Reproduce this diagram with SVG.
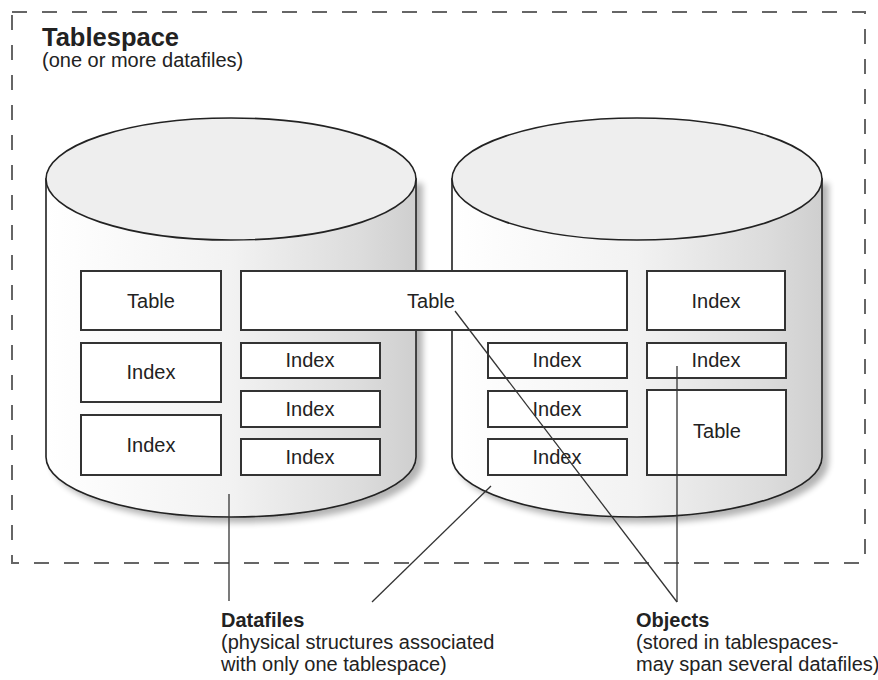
<svg xmlns="http://www.w3.org/2000/svg" width="878" height="680" viewBox="0 0 878 680">
<defs>
<linearGradient id="body" x1="0" y1="0" x2="1" y2="0">
<stop offset="0" stop-color="#ffffff"/>
<stop offset="0.5" stop-color="#f2f2f2"/>
<stop offset="0.85" stop-color="#dcdcdc"/>
<stop offset="1" stop-color="#cfcfcf"/>
</linearGradient>
<filter id="shadow" x="-10%" y="-10%" width="125%" height="125%">
<feGaussianBlur in="SourceAlpha" stdDeviation="3"/>
<feOffset dx="6" dy="5" result="b"/>
<feComponentTransfer><feFuncA type="linear" slope="0.3"/></feComponentTransfer>
<feMerge><feMergeNode/><feMergeNode in="SourceGraphic"/></feMerge>
</filter>
<style>
.frame{fill:none;stroke:#666;stroke-width:2;stroke-dasharray:15 15}
.body{fill:url(#body);stroke:#222;stroke-width:1.6}
.top{fill:#eeeeee;stroke:#222;stroke-width:1.6}
.box{fill:#fff;stroke:#333;stroke-width:2}
.lbl{font-family:"Liberation Sans",Arial,sans-serif;font-size:20px;fill:#222;text-anchor:middle}
.t{font-family:"Liberation Sans",Arial,sans-serif;font-size:20px;fill:#222}
.b{font-weight:bold}
.ln{stroke:#333;stroke-width:1.3;fill:none}
</style>
</defs>
<rect class="frame" x="12" y="12" width="853" height="551"/>
<g id="tablespace-label">
<text class="t b" x="42" y="46" style="font-size:25.5px">Tablespace</text>
<text class="t" x="42" y="67">(one or more datafiles)</text>
</g>
<g id="datafile1">
<path class="body" filter="url(#shadow)" d="M46,179 L46,457 A185,60 0 0 0 416,457 L416,179 Z"/>
<ellipse class="top" cx="231" cy="179" rx="185" ry="61"/>
</g>
<g id="datafile2">
<path class="body" filter="url(#shadow)" d="M452,179 L452,457 A185,60 0 0 0 822,457 L822,179 Z"/>
<ellipse class="top" cx="637" cy="179" rx="185" ry="61"/>
</g>
<g id="obj-table1"><rect class="box" x="81" y="271" width="140" height="59"/><text class="lbl" x="151" y="308">Table</text></g>
<g id="obj-index1"><rect class="box" x="81" y="343" width="140" height="59"/><text class="lbl" x="151" y="379">Index</text></g>
<g id="obj-index2"><rect class="box" x="81" y="415" width="140" height="60"/><text class="lbl" x="151" y="452">Index</text></g>
<g id="obj-index3"><rect class="box" x="241" y="343" width="139" height="35"/><text class="lbl" x="310" y="367">Index</text></g>
<g id="obj-index4"><rect class="box" x="241" y="391" width="139" height="36"/><text class="lbl" x="310" y="416">Index</text></g>
<g id="obj-index5"><rect class="box" x="241" y="439" width="139" height="36"/><text class="lbl" x="310" y="464">Index</text></g>
<g id="obj-table2"><rect class="box" x="241" y="271" width="386" height="59"/><text class="lbl" x="431" y="308">Table</text></g>
<g id="obj-index6"><rect class="box" x="488" y="343" width="139" height="35"/><text class="lbl" x="557" y="367">Index</text></g>
<g id="obj-index7"><rect class="box" x="488" y="391" width="139" height="36"/><text class="lbl" x="557" y="416">Index</text></g>
<g id="obj-index8"><rect class="box" x="488" y="439" width="139" height="36"/><text class="lbl" x="557" y="464">Index</text></g>
<g id="obj-index9"><rect class="box" x="647" y="271" width="138" height="59"/><text class="lbl" x="716" y="308">Index</text></g>
<g id="obj-index10"><rect class="box" x="647" y="343" width="139" height="35"/><text class="lbl" x="716" y="367">Index</text></g>
<g id="obj-table3"><rect class="box" x="647" y="390" width="139" height="85"/><text class="lbl" x="717" y="438">Table</text></g>
<g id="connectors">
<line class="ln" x1="229" y1="494" x2="229" y2="601"/>
<line class="ln" x1="491" y1="486" x2="372" y2="602"/>
<line class="ln" x1="455" y1="311" x2="677" y2="602"/>
<line class="ln" x1="677" y1="366" x2="677" y2="602"/>
</g>
<g id="datafiles-label">
<text class="t b" x="221" y="627">Datafiles</text>
<text class="t" x="221" y="649">(physical structures associated</text>
<text class="t" x="221" y="671">with only one tablespace)</text>
</g>
<g id="objects-label">
<text class="t b" x="636" y="627">Objects</text>
<text class="t" x="636" y="649">(stored in tablespaces-</text>
<text class="t" x="636" y="671">may span several datafiles)</text>
</g>
</svg>
